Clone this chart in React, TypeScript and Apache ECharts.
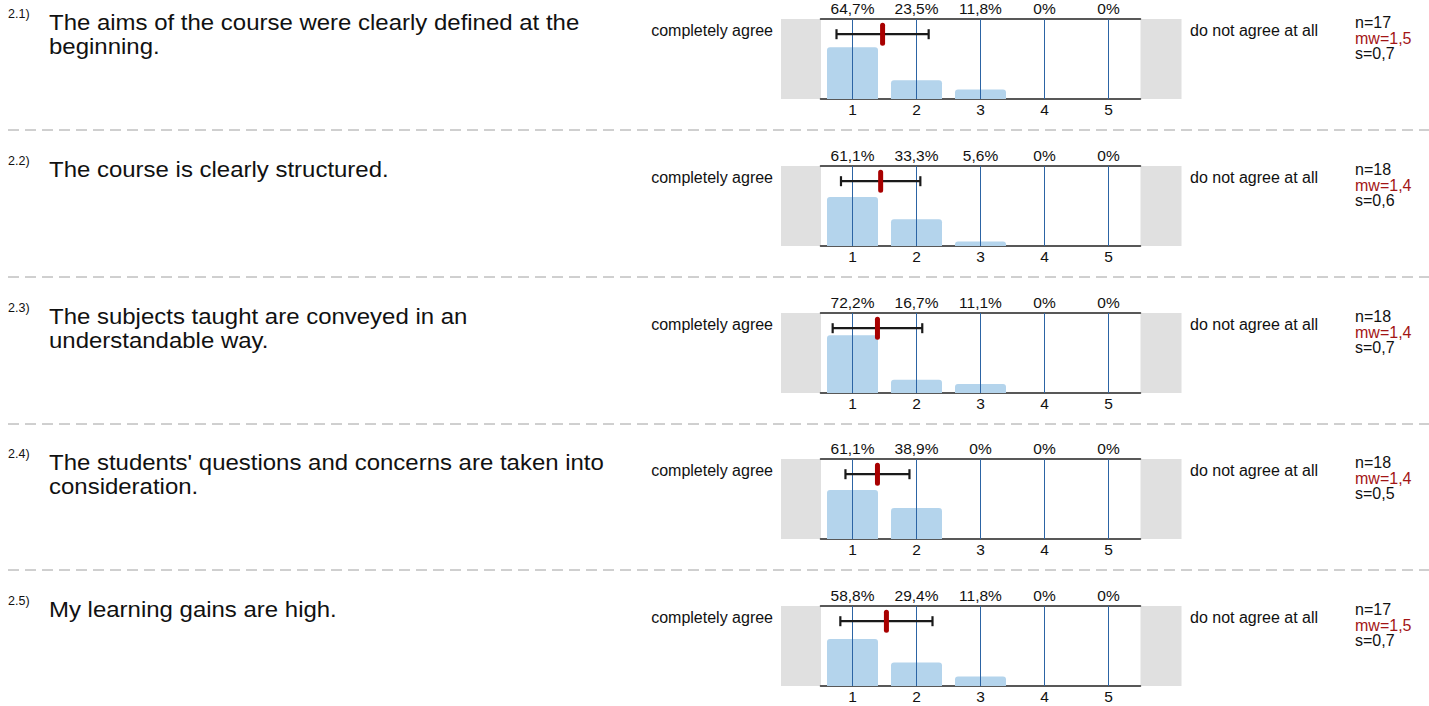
import React, { useEffect, useRef } from "react";
import * as echarts from "echarts";

// ---------- data ----------
const categories = ["1", "2", "3", "4", "5"];
const questionNumbers = ["2.1)", "2.2)", "2.3)", "2.4)", "2.5)"];
const questions = [
  "The aims of the course were clearly defined at the\nbeginning.",
  "The course is clearly structured.",
  "The subjects taught are conveyed in an\nunderstandable way.",
  "The students' questions and concerns are taken into\nconsideration.",
  "My learning gains are high.",
];
const percentsQ1 = [64.7, 23.5, 11.8, 0, 0];
const percentsQ2 = [61.1, 33.3, 5.6, 0, 0];
const percentsQ3 = [72.2, 16.7, 11.1, 0, 0];
const percentsQ4 = [61.1, 38.9, 0, 0, 0];
const percentsQ5 = [58.8, 29.4, 11.8, 0, 0];
const percents = [percentsQ1, percentsQ2, percentsQ3, percentsQ4, percentsQ5];
const nValues = [17, 18, 18, 18, 17];
const means = [1.47, 1.44, 1.39, 1.39, 1.53];
const sds = [0.72, 0.62, 0.7, 0.5, 0.72];
const leftPole = "completely agree";
const rightPole = "do not agree at all";

// ---------- layout ----------
const W = 1429;
const H = 706;
const GRID_LEFT = 820.5;
const GRID_W = 320;
const GRID_H = 80;
const TOP0 = 19;
const STEP = 146.8;
const ERR_Y = 81;
const FONT = "'Liberation Sans', Arial, Helvetica, sans-serif";
const TEXT = "#111";

const fmtPct = (v: number) => (v === 0 ? "0%" : v.toFixed(1).replace(".", ",") + "%");
const fmtNum = (v: number) => v.toFixed(1).replace(".", ",");

export default function App() {
  const ref = useRef<HTMLDivElement>(null);
  useEffect(() => {
    document.body.style.margin = "0";
    if (!ref.current) return;
    const chart = echarts.init(ref.current, undefined, { renderer: "svg" });
    const tops = questions.map((_, i) => Math.round(TOP0 + i * STEP));

    const grid: any[] = [];
    const xAxis: any[] = [];
    const yAxis: any[] = [];
    const series: any[] = [];
    const graphic: any[] = [];

    tops.forEach((top, i) => {
      grid.push({ left: GRID_LEFT, top, width: GRID_W, height: GRID_H });
      xAxis.push({
        gridIndex: i,
        type: "category",
        position: "bottom",
        data: categories,
        axisLine: { show: true, lineStyle: { color: "#222", width: 1.5 } },
        axisTick: { show: false },
        splitLine: { show: false },
        axisLabel: { color: TEXT, fontSize: 15.5, fontFamily: FONT, margin: 2 },
      });
      xAxis.push({
        gridIndex: i,
        type: "category",
        position: "top",
        data: percents[i].map(fmtPct),
        axisLine: { show: true, lineStyle: { color: "#222", width: 1.5 } },
        axisTick: { show: false },
        splitLine: { show: false },
        axisLabel: { color: TEXT, fontSize: 15.5, fontFamily: FONT, margin: 3 },
      });
      xAxis.push({
        gridIndex: i,
        type: "value",
        min: 0.5,
        max: 5.5,
        show: false,
      });
      yAxis.push({ gridIndex: i, type: "value", min: 0, max: 100, show: false });

      series.push({
        type: "bar",
        xAxisIndex: i * 3,
        yAxisIndex: i,
        data: percents[i],
        barWidth: 51,
        itemStyle: { color: "#b4d4ec", borderRadius: [3, 3, 0, 0] },
        silent: true,
        markLine: {
          silent: true,
          symbol: "none",
          label: { show: false },
          lineStyle: { color: "#2c64a4", width: 1, type: "solid" },
          data: categories.map((c) => ({ xAxis: c })),
        },
      });
      series.push({
        type: "custom",
        xAxisIndex: i * 3 + 2,
        yAxisIndex: i,
        data: [[means[i], sds[i]]],
        z: 5,
        renderItem: (_p: any, api: any) => {
          const m = api.value(0);
          const s = api.value(1);
          const [xl, y] = api.coord([m - s, ERR_Y]);
          const [xr] = api.coord([m + s, ERR_Y]);
          const [xm] = api.coord([m, ERR_Y]);
          const st = { stroke: "#1a1a1a", lineWidth: 2.2 };
          return {
            type: "group",
            children: [
              { type: "line", shape: { x1: xl, y1: y, x2: xr, y2: y }, style: st },
              { type: "line", shape: { x1: xl, y1: y - 5, x2: xl, y2: y + 5 }, style: st },
              { type: "line", shape: { x1: xr, y1: y - 5, x2: xr, y2: y + 5 }, style: st },
              {
                type: "rect",
                shape: { x: xm - 2.5, y: y - 11.5, width: 5, height: 23, r: 2.5 },
                style: { fill: "#a80000" },
              },
            ],
          };
        },
      });

      // grey pole panels
      graphic.push({
        type: "rect",
        shape: { x: 781, y: top, width: 40, height: GRID_H },
        style: { fill: "#e0e0e0" },
        z: -1,
      });
      graphic.push({
        type: "rect",
        shape: { x: 1140.5, y: top, width: 41, height: GRID_H },
        style: { fill: "#e0e0e0" },
        z: -1,
      });
      // question number and text
      graphic.push({
        type: "text",
        x: 8,
        y: top - 5,
        style: { text: questionNumbers[i], fontSize: 12.5, fontFamily: FONT, fill: TEXT, verticalAlign: "middle" },
      });
      graphic.push({
        type: "text",
        x: 49,
        y: top - 9,
        scaleX: 1.09,
        style: {
          text: questions[i],
          fontSize: 22,
          lineHeight: 24,
          fontFamily: FONT,
          fill: TEXT,
          verticalAlign: "top",
        },
      });
      graphic.push({
        type: "text",
        x: 773,
        y: top + 11,
        style: { text: leftPole, fontSize: 16, fontFamily: FONT, fill: TEXT, align: "right", verticalAlign: "middle" },
      });
      graphic.push({
        type: "text",
        x: 1190,
        y: top + 11,
        style: { text: rightPole, fontSize: 16, fontFamily: FONT, fill: TEXT, align: "left", verticalAlign: "middle" },
      });
      const stats = [
        { t: "n=" + nValues[i], dy: 3, c: TEXT },
        { t: "mw=" + fmtNum(means[i]), dy: 19, c: "#a31515" },
        { t: "s=" + fmtNum(sds[i]), dy: 34.5, c: TEXT },
      ];
      stats.forEach((s) =>
        graphic.push({
          type: "text",
          x: 1355,
          y: top + s.dy,
          style: { text: s.t, fontSize: 16, fontFamily: FONT, fill: s.c, verticalAlign: "middle" },
        })
      );
      if (i < questions.length - 1) {
        graphic.push({
          type: "line",
          shape: { x1: 8, y1: top + 111, x2: W, y2: top + 111 },
          style: { stroke: "#a0a0a0", lineWidth: 1, lineDash: [11, 6] },
        });
      }
    });

    chart.setOption({
      animation: false,
      grid,
      xAxis,
      yAxis,
      series,
      graphic,
    });
    return () => chart.dispose();
  }, []);
  return <div ref={ref} style={{ width: W, height: H }} />;
}
